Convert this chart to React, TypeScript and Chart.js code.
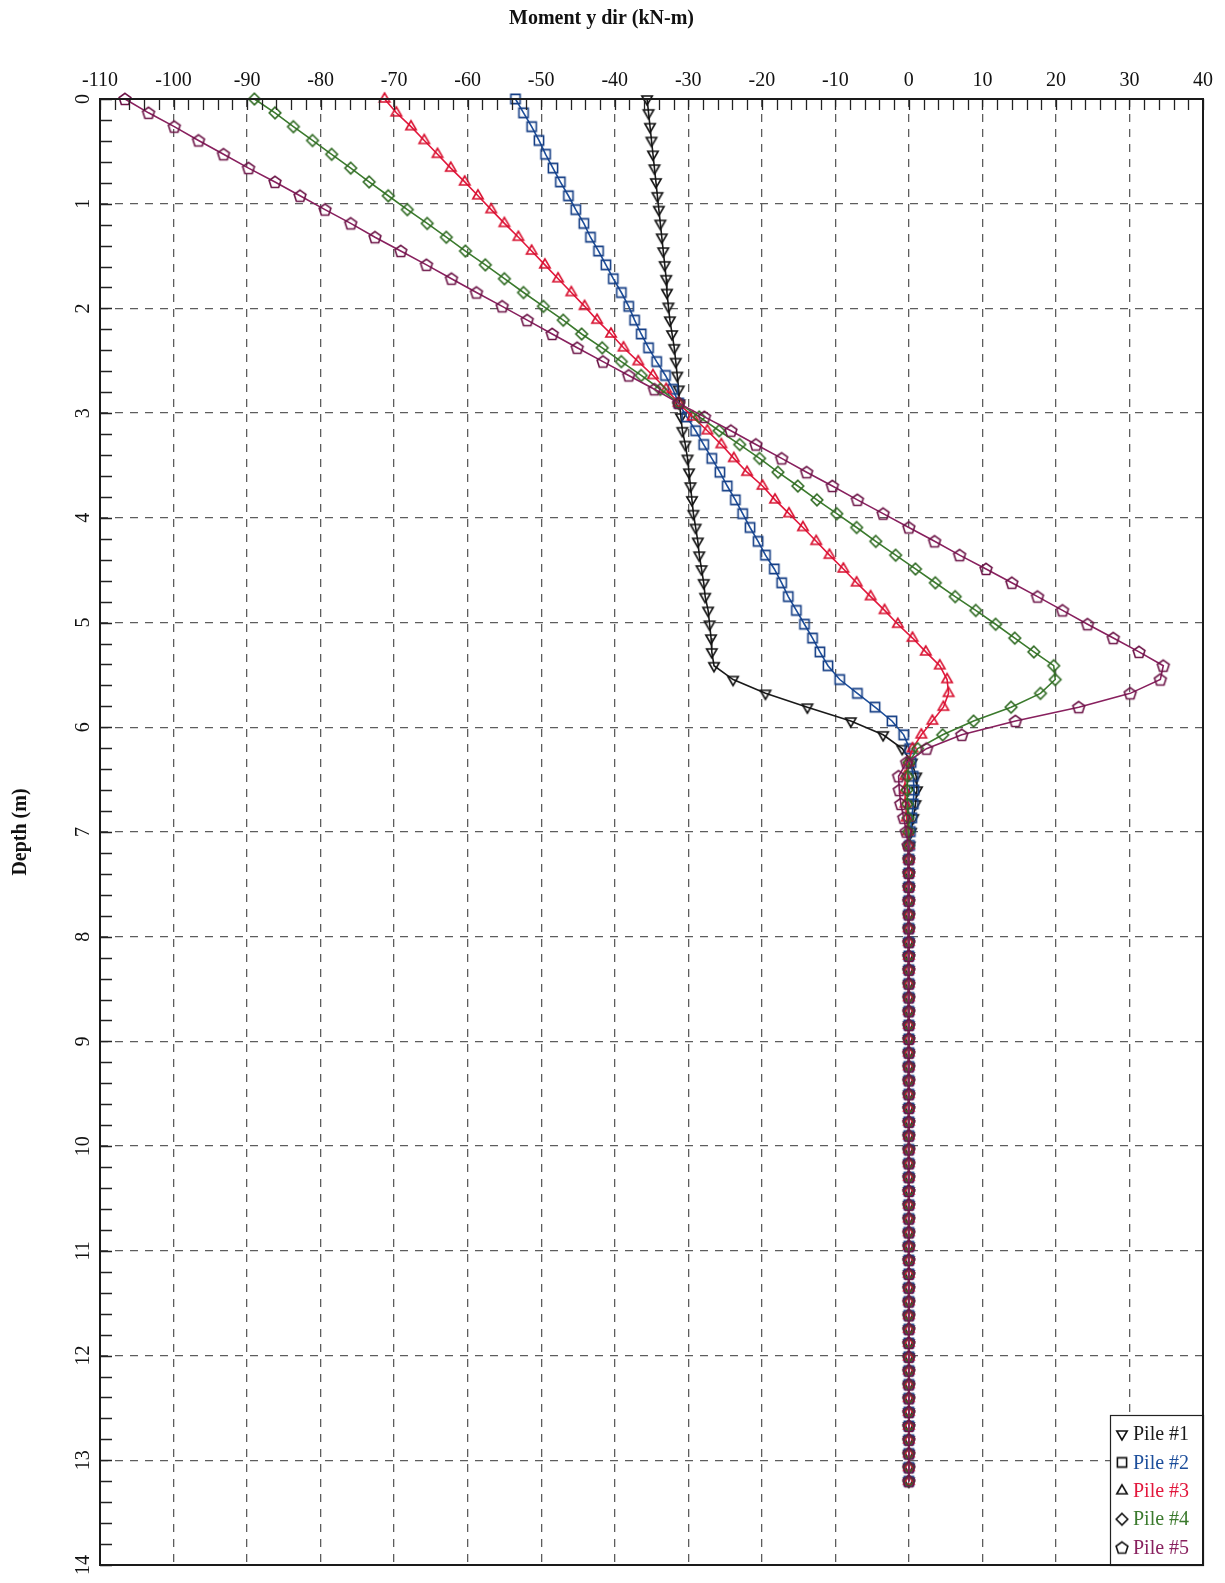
import React, { useEffect, useRef } from "react";
import { Chart, registerables } from "chart.js";

Chart.register(...registerables);

// Depth below pile head (m)
const depths = [
  0, 0.132, 0.264, 0.396, 0.528, 0.66, 0.792, 0.924, 1.056, 1.188,
  1.32, 1.452, 1.584, 1.716, 1.848, 1.98, 2.112, 2.244, 2.376, 2.508,
  2.64, 2.772, 2.904, 3.036, 3.168, 3.3, 3.432, 3.564, 3.696, 3.828,
  3.96, 4.092, 4.224, 4.356, 4.488, 4.62, 4.752, 4.884, 5.016, 5.148,
  5.28, 5.412, 5.544, 5.676, 5.808, 5.94, 6.072, 6.204, 6.336, 6.468,
  6.6, 6.732, 6.864, 6.996, 7.128, 7.26, 7.392, 7.524, 7.656, 7.788,
  7.92, 8.052, 8.184, 8.316, 8.448, 8.58, 8.712, 8.844, 8.976, 9.108,
  9.24, 9.372, 9.504, 9.636, 9.768, 9.9, 10.032, 10.164, 10.296, 10.428,
  10.56, 10.692, 10.824, 10.956, 11.088, 11.22, 11.352, 11.484, 11.616, 11.748,
  11.88, 12.012, 12.144, 12.276, 12.408, 12.54, 12.672, 12.804, 12.936, 13.068,
  13.2,
];

// Moment y dir (kN-m) for each pile
const pile1 = [
  -35.6, -35.4, -35.2, -35.0, -34.8, -34.6, -34.4, -34.2, -34.0, -33.8,
  -33.6, -33.4, -33.2, -33.0, -32.9, -32.7, -32.5, -32.2, -31.9, -31.7,
  -31.5, -31.3, -31.2, -31.0, -30.8, -30.4, -30.1, -29.9, -29.7, -29.5,
  -29.3, -29.0, -28.7, -28.5, -28.2, -27.9, -27.7, -27.3, -27.1, -26.9,
  -26.8, -26.5, -23.9, -19.5, -13.8, -7.9, -3.5, -0.9, 0.4, 1.0,
  1.1, 0.9, 0.6, 0.3, 0.1, 0, 0, 0, 0, 0,
  0, 0, 0, 0, 0, 0, 0, 0, 0, 0,
  0, 0, 0, 0, 0, 0, 0, 0, 0, 0,
  0, 0, 0, 0, 0, 0, 0, 0, 0, 0,
  0, 0, 0, 0, 0, 0, 0, 0, 0, 0,
  0,
];

const pile2 = [
  -53.5, -52.4, -51.3, -50.3, -49.4, -48.4, -47.4, -46.3, -45.3, -44.2,
  -43.3, -42.2, -41.2, -40.2, -39.1, -38.1, -37.3, -36.4, -35.4, -34.3,
  -33.1, -32.1, -31.3, -30.2, -29.0, -27.9, -26.8, -25.7, -24.7, -23.6,
  -22.6, -21.6, -20.5, -19.5, -18.3, -17.3, -16.4, -15.3, -14.2, -13.1,
  -12.1, -11.0, -9.4, -7.0, -4.6, -2.3, -0.7, 0.1, 0.3, 0.6,
  0.7, 0.6, 0.4, 0.2, 0.1, 0, 0, 0, 0, 0,
  0, 0, 0, 0, 0, 0, 0, 0, 0, 0,
  0, 0, 0, 0, 0, 0, 0, 0, 0, 0,
  0, 0, 0, 0, 0, 0, 0, 0, 0, 0,
  0, 0, 0, 0, 0, 0, 0, 0, 0, 0,
  0,
];

const pile3 = [
  -71.3, -69.7, -67.7, -65.9, -64.1, -62.3, -60.4, -58.6, -56.8, -55.0,
  -53.1, -51.3, -49.5, -47.7, -45.9, -44.1, -42.4, -40.5, -38.8, -36.8,
  -34.8, -33.0, -31.3, -29.4, -27.4, -25.5, -23.8, -22.0, -19.9, -18.2,
  -16.3, -14.4, -12.6, -10.8, -8.9, -7.1, -5.2, -3.3, -1.5, 0.5,
  2.3, 4.2, 5.2, 5.4, 4.7, 3.2, 1.7, 0.5, -0.1, -0.5,
  -0.55, -0.45, -0.3, -0.15, 0, 0, 0, 0, 0, 0,
  0, 0, 0, 0, 0, 0, 0, 0, 0, 0,
  0, 0, 0, 0, 0, 0, 0, 0, 0, 0,
  0, 0, 0, 0, 0, 0, 0, 0, 0, 0,
  0, 0, 0, 0, 0, 0, 0, 0, 0, 0,
  0,
];

const pile4 = [
  -89.0, -86.2, -83.7, -81.1, -78.5, -75.9, -73.4, -70.8, -68.2, -65.5,
  -62.9, -60.3, -57.6, -55.0, -52.4, -49.7, -47.0, -44.5, -41.7, -39.1,
  -36.4, -33.8, -31.3, -28.5, -25.8, -23.0, -20.3, -17.8, -15.1, -12.5,
  -9.8, -7.1, -4.5, -1.8, 0.9, 3.6, 6.3, 9.1, 11.8, 14.4,
  17.0, 19.7, 19.9, 17.9, 13.9, 8.8, 4.6, 1.2, 0.0, -0.2,
  -0.25, -0.2, -0.1, -0.05, 0, 0, 0, 0, 0, 0,
  0, 0, 0, 0, 0, 0, 0, 0, 0, 0,
  0, 0, 0, 0, 0, 0, 0, 0, 0, 0,
  0, 0, 0, 0, 0, 0, 0, 0, 0, 0,
  0, 0, 0, 0, 0, 0, 0, 0, 0, 0,
  0,
];

const pile5 = [
  -106.6, -103.4, -99.9, -96.6, -93.2, -89.8, -86.2, -82.8, -79.4, -75.9,
  -72.6, -69.1, -65.6, -62.2, -58.8, -55.3, -51.9, -48.5, -45.1, -41.6,
  -38.1, -34.6, -31.3, -27.8, -24.2, -20.8, -17.3, -13.9, -10.4, -7.0,
  -3.5, 0.0, 3.5, 6.9, 10.5, 14.0, 17.5, 20.9, 24.3, 27.8,
  31.3, 34.6, 34.2, 30.1, 23.1, 14.5, 7.2, 2.4, -0.3, -1.4,
  -1.3, -1.1, -0.7, -0.35, -0.1, 0, 0, 0, 0, 0,
  0, 0, 0, 0, 0, 0, 0, 0, 0, 0,
  0, 0, 0, 0, 0, 0, 0, 0, 0, 0,
  0, 0, 0, 0, 0, 0, 0, 0, 0, 0,
  0, 0, 0, 0, 0, 0, 0, 0, 0, 0,
  0,
];

const pileNames = ["Pile #1", "Pile #2", "Pile #3", "Pile #4", "Pile #5"];
const pileColors = ["#1a1a1a", "#1c4e9b", "#e2173c", "#3b7a2d", "#88205e"];
const markerColors = ["#111111", "#163f86", "#d8102f", "#2f6a22", "#6c1447"];
const pileMarkers = ["triangleDown", "square", "triangleUp", "diamond", "pentagon"];

const xAxisTitle = "Moment y dir (kN-m)";
const yAxisTitle = "Depth (m)";

const SERIF = '"Liberation Serif", "Times New Roman", Times, serif';

function makeMarker(shape: string, color: string): HTMLCanvasElement {
  const c = document.createElement("canvas");
  c.width = 18;
  c.height = 18;
  const g = c.getContext("2d")!;
  g.strokeStyle = color;
  g.lineWidth = 1.6;
  g.lineJoin = "miter";
  const cx = 9;
  const cy = 9;
  g.beginPath();
  if (shape === "triangleDown") {
    const r = 6;
    g.moveTo(cx, cy + r);
    g.lineTo(cx - r * 0.866, cy - r / 2);
    g.lineTo(cx + r * 0.866, cy - r / 2);
    g.closePath();
  } else if (shape === "triangleUp") {
    const r = 6;
    g.moveTo(cx, cy - r);
    g.lineTo(cx - r * 0.866, cy + r / 2);
    g.lineTo(cx + r * 0.866, cy + r / 2);
    g.closePath();
  } else if (shape === "square") {
    const h = 4.6;
    g.rect(cx - h, cy - h, 2 * h, 2 * h);
  } else if (shape === "diamond") {
    const r = 5.8;
    g.moveTo(cx, cy - r);
    g.lineTo(cx + r, cy);
    g.lineTo(cx, cy + r);
    g.lineTo(cx - r, cy);
    g.closePath();
  } else {
    const r = 6.2;
    for (let k = 0; k < 5; k++) {
      const a = -Math.PI / 2 + (k * 2 * Math.PI) / 5;
      const px = cx + r * Math.cos(a);
      const py = cy + 0.5 + r * Math.sin(a);
      if (k === 0) g.moveTo(px, py);
      else g.lineTo(px, py);
    }
    g.closePath();
  }
  g.stroke();
  return c;
}

const legendAndFramePlugin = {
  id: "legendAndFrame",
  afterDraw(chart: any) {
    const { ctx, chartArea: a, scales } = chart;
    ctx.save();

    // Legend box (bottom right, inside the plot)
    const boxW = 93;
    const boxH = 150;
    const x0 = a.right - boxW;
    const y0 = a.bottom - boxH;
    ctx.fillStyle = "#ffffff";
    ctx.fillRect(x0, y0, boxW, boxH);
    ctx.strokeStyle = "#222";
    ctx.lineWidth = 1.2;
    ctx.strokeRect(x0 + 0.5, y0 + 0.5, boxW, boxH);
    ctx.font = `20px ${SERIF}`;
    ctx.textBaseline = "middle";
    ctx.textAlign = "left";
    pileNames.forEach((name, k) => {
      const cy = y0 + 19 + k * 28.4;
      const m = makeMarker(pileMarkers[k], "#111");
      ctx.drawImage(m, x0 + 12 - 9, cy - 9);
      ctx.fillStyle = pileColors[k];
      ctx.fillText(name, x0 + 23, cy + 1);
    });

    // Inward tick marks
    const xs = scales.x;
    const ys = scales.y;
    ctx.strokeStyle = "#222";
    ctx.lineWidth = 1.3;
    ctx.beginPath();
    for (let k = 0; ; k++) {
      const v = xs.min + k * 2;
      if (v > xs.max + 1e-9) break;
      const px = Math.round(xs.getPixelForValue(v)) + 0.5;
      ctx.moveTo(px, a.top);
      ctx.lineTo(px, a.top + 11);
    }
    for (let k = 0; ; k++) {
      const v = ys.min + k * 0.2;
      if (v > ys.max + 1e-9) break;
      const py = Math.round(ys.getPixelForValue(v)) + 0.5;
      ctx.moveTo(a.left, py);
      ctx.lineTo(a.left + 12, py);
    }
    ctx.stroke();

    // Frame
    ctx.lineWidth = 2;
    ctx.strokeStyle = "#1a1a1a";
    ctx.strokeRect(a.left, a.top, a.right - a.left, a.bottom - a.top);
    ctx.restore();
  },
};

export default function App() {
  const ref = useRef<HTMLCanvasElement>(null);

  useEffect(() => {
    const canvas = ref.current;
    if (!canvas) return;
    const piles = [pile1, pile2, pile3, pile4, pile5];
    const datasets = piles.map((vals, k) => ({
      label: pileNames[k],
      data: vals.map((v, i) => ({ x: v, y: depths[i] })),
      borderColor: pileColors[k],
      backgroundColor: pileColors[k],
      borderWidth: 1.6,
      pointStyle: makeMarker(pileMarkers[k], markerColors[k]),
      pointRadius: 6,
      pointHoverRadius: 6,
      showLine: true,
      tension: 0,
      clip: false as any,
      order: piles.length - k,
    }));

    const gridStyle = {
      display: true,
      drawTicks: false,
      drawOnChartArea: true,
      color: "rgba(75,75,75,0.9)",
      lineWidth: 1.3,
    };

    const chart = new Chart(canvas, {
      type: "scatter",
      data: { datasets },
      options: {
        responsive: false,
        maintainAspectRatio: false,
        animation: false,
        devicePixelRatio: 1,
        events: [],
        layout: { padding: { left: 0, top: 0, right: 22, bottom: 9 } },
        plugins: {
          legend: { display: false },
          tooltip: { enabled: false },
          title: {
            display: true,
            text: xAxisTitle,
            color: "#111",
            font: { family: SERIF, size: 20, weight: "bold" },
            padding: { top: 7, bottom: 0 },
          },
        },
        scales: {
          x: {
            type: "linear",
            position: "top",
            min: -110,
            max: 40,
            afterFit: (s: any) => {
              s.height = 68;
            },
            ticks: {
              stepSize: 10,
              autoSkip: false,
              maxRotation: 0,
              minRotation: 0,
              padding: 6,
              color: "#111",
              font: { family: SERIF, size: 20 },
            },
            grid: gridStyle,
            border: { display: false, dash: [8, 7] },
          },
          y: {
            type: "linear",
            position: "left",
            reverse: true,
            min: 0,
            max: 14,
            afterFit: (s: any) => {
              s.width = 100;
            },
            ticks: {
              stepSize: 1,
              autoSkip: false,
              minRotation: 90,
              maxRotation: 90,
              crossAlign: "center",
              padding: 6,
              color: "#111",
              font: { family: SERIF, size: 20 },
            },
            grid: gridStyle,
            border: { display: false, dash: [8, 7] },
            title: {
              display: true,
              text: yAxisTitle,
              color: "#111",
              font: { family: SERIF, size: 20, weight: "bold" },
              padding: { top: 9, bottom: 0 },
            },
          },
        },
      } as any,
      plugins: [legendAndFramePlugin],
    });

    return () => chart.destroy();
  }, []);

  return (
    <div
      style={{
        position: "absolute",
        left: 0,
        top: 0,
        width: 1225,
        height: 1583,
        background: "#ffffff",
      }}
    >
      <canvas
        ref={ref}
        width={1225}
        height={1583}
        style={{ display: "block", width: 1225, height: 1583 }}
      />
    </div>
  );
}
